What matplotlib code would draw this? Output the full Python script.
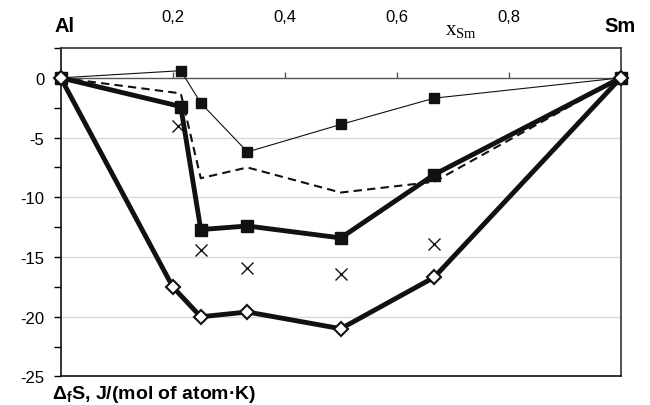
import matplotlib
matplotlib.use('Agg')
import matplotlib.pyplot as plt
from matplotlib.ticker import MultipleLocator

plt.rcParams['font.family'] = ['Liberation Sans', 'DejaVu Sans']
plt.rcParams['mathtext.fontset'] = 'custom'
plt.rcParams['mathtext.rm'] = 'Liberation Serif'
plt.rcParams['mathtext.bf'] = 'Liberation Sans:bold'

# mole fraction of Sm for each compound
x_thin = [0, 3 / 14, 0.25, 1 / 3, 0.5, 2 / 3, 1]
y_thin = [0, 0.6, -2.1, -6.2, -3.9, -1.7, 0]

x_dash = [0, 3 / 14, 0.25, 1 / 3, 0.5, 2 / 3, 1]
y_dash = [0, -1.3, -8.4, -7.5, -9.6, -8.7, 0]

x_sq = [0, 3 / 14, 0.25, 1 / 3, 0.5, 2 / 3, 1]
y_sq = [0, -2.4, -12.7, -12.4, -13.4, -8.1, 0]

x_cross = [0.21, 0.25, 1 / 3, 0.5, 2 / 3]
y_cross = [-4.0, -14.4, -15.9, -16.4, -13.9]

x_dia = [0, 0.2, 0.25, 1 / 3, 0.5, 2 / 3, 1]
y_dia = [0, -17.5, -20.0, -19.6, -21.0, -16.7, 0]

x_ticks = [0.2, 0.4, 0.6, 0.8]
x_ticklabels = ['0,2', '0,4', '0,6', '0,8']
y_ticks = [0, -5, -10, -15, -20, -25]
y_top = 2.5

fig = plt.figure(figsize=(6.5, 4.06), dpi=100)
ax = fig.add_axes([0.0935, 0.0702, 0.8615, 0.8091])

ink = '#111111'

# light grid lines
for v in y_ticks[1:-1]:
    ax.axhline(v, color='#d9d9d9', lw=1, zorder=0)

ax.plot(x_thin, y_thin, color=ink, lw=0.8, marker='s', ms=7, clip_on=False, zorder=4)
ax.plot(x_dash, y_dash, color=ink, lw=1.5, dashes=(4, 2.5), zorder=3)
ax.plot(x_sq, y_sq, color=ink, lw=3.5, marker='s', ms=9, clip_on=False, zorder=5)
ax.plot(x_cross, y_cross, ls='none', color=ink, marker='x', ms=9, mew=1, zorder=4)
ax.plot(x_dia, y_dia, color=ink, lw=3.5, marker='D', ms=7, mfc='white', mec=ink,
        mew=1.5, clip_on=False, zorder=5)

ax.set_xlim(0, 1)
ax.set_ylim(y_ticks[-1], y_top)

# x labels on top, tick marks on the zero line
ax.xaxis.tick_top()
ax.set_xticks(x_ticks)
ax.set_xticklabels(x_ticklabels, fontsize=12)
ax.tick_params(axis='x', length=0, pad=17)

zero = ax.secondary_xaxis(-y_ticks[-1] / (y_top - y_ticks[-1]))
zero.set_xticks(x_ticks)
zero.tick_params(axis='x', direction='out', length=4.5, width=1, color='#555555',
                 labeltop=False, labelbottom=False)
zero.spines['top'].set_color('#555555')
zero.spines['top'].set_linewidth(1)

ax.set_yticks(y_ticks)
ax.set_yticklabels([str(v) for v in y_ticks], fontsize=12)
ax.yaxis.set_minor_locator(MultipleLocator(2.5))
ax.tick_params(axis='y', which='both', direction='out', length=4.8, width=1, pad=7)

for s in ['left', 'bottom']:
    ax.spines[s].set_color(ink)
    ax.spines[s].set_linewidth(1.2)
for s in ['top', 'right']:
    ax.spines[s].set_color('#333333')
    ax.spines[s].set_linewidth(1.2)

fig.text(0.0846, 0.920, 'Al', fontsize=14.5, fontweight='bold', ha='left', va='baseline')
fig.text(0.978, 0.922, 'Sm', fontsize=14.5, fontweight='bold', ha='right', va='baseline')
fig.text(0.685, 0.914, r'$\mathrm{x}_{\mathrm{Sm}}$', fontsize=15, ha='left', va='baseline')
fig.text(0.08, 0.018, r'$\mathbf{Δ_f}$S, J/(mol of atom·K)', fontsize=14,
         fontweight='bold', ha='left', va='baseline')

fig.savefig('out.png', dpi=100)
